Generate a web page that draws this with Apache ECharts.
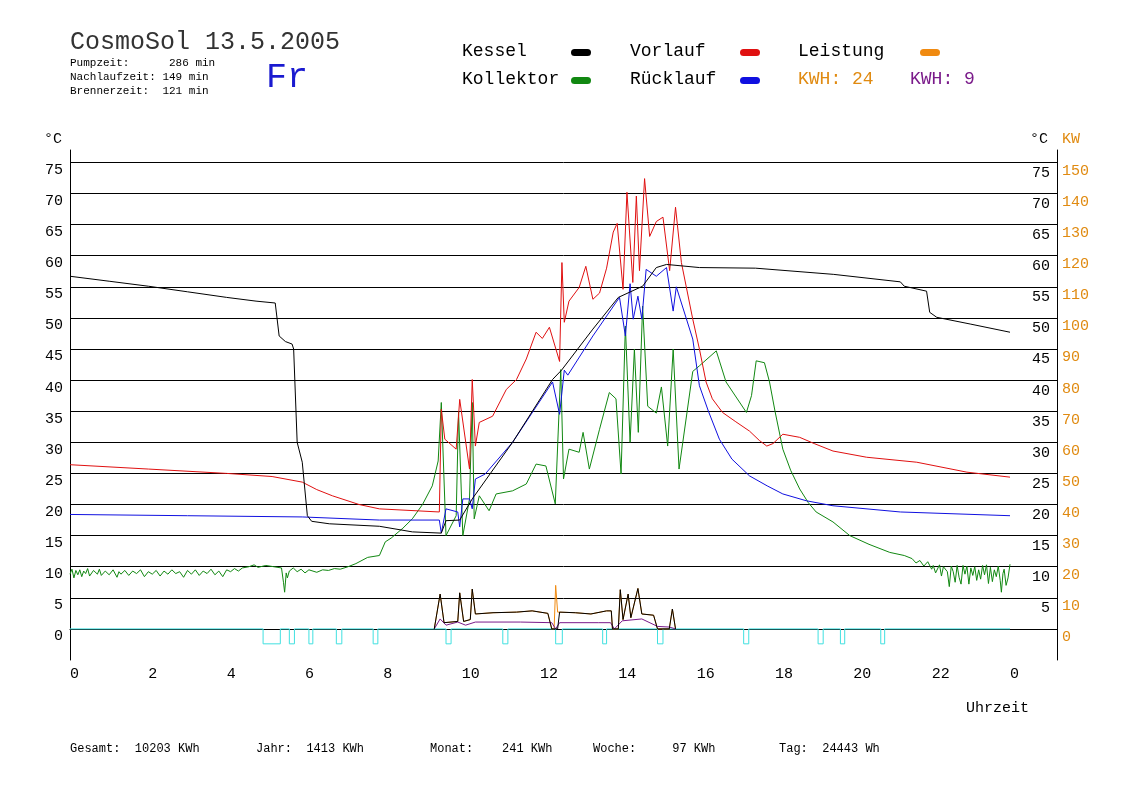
<!DOCTYPE html>
<html>
<head>
<meta charset="utf-8">
<script src="https://cdn.jsdelivr.net/npm/echarts@6/dist/echarts.min.js"></script>
<style>
  html, body { margin: 0; padding: 0; background: #fff; }
  #chart { width: 1148px; height: 812px; }
</style>
</head>
<body>
<div id="chart"></div>
<script>
// Daten: [Stunde, °C]
const kessel = [[0,56.7],[1,55.9],[2,55.1],[3,54.2],[4,53.3],[4.75,52.7],[5.24,52.4],[5.34,47.1],[5.5,46.2],[5.67,45.8],[5.71,45],[5.8,30],[5.93,26.8],[6.06,18.2],[6.17,17.3],[6.62,16.9],[7.9,16.5],[8.74,15.6],[9.48,15.4],[9.6,17.4],[9.95,17.5],[10.27,20.9],[11.3,30],[12.32,40.1],[12.55,41.6],[13.35,48.2],[14.0,53.3],[14.62,55.1],[14.97,58.1],[15.23,58.6],[16.07,58.1],[17.5,58.0],[19.5,57.0],[21.2,55.8],[21.3,55.1],[21.87,54.3],[21.95,50.9],[22.13,50.1],[23,49],[24,47.7]];

const vorlauf = [[0,26.4],[2,25.7],[4,25.0],[5.16,24.5],[5.93,23.6],[6.3,22.4],[6.7,21.4],[7.38,20.0],[7.9,19.3],[9.43,18.8],[9.48,35.3],[9.57,30.5],[9.86,28.9],[9.95,36.9],[10.2,25.7],[10.27,40.1],[10.35,29.4],[10.45,33.2],[10.79,34.2],[11.14,38.5],[11.4,40.1],[11.65,43.4],[11.9,47.7],[12.06,46.7],[12.24,48.5],[12.5,43.0],[12.56,58.9],[12.62,49.3],[12.74,52.7],[13.0,54.9],[13.17,58.3],[13.35,53.0],[13.52,54.0],[13.7,58.0],[13.87,63.8],[13.97,65.2],[14.12,54.6],[14.22,70.2],[14.37,55.7],[14.46,69.6],[14.54,57.6],[14.67,72.4],[14.8,63.1],[14.97,65.5],[15.14,66.2],[15.31,57.6],[15.46,67.8],[15.61,58.9],[15.9,49.8],[16.07,45.0],[16.24,39.7],[16.4,37.0],[16.66,34.8],[17.0,33.3],[17.35,31.8],[17.6,30.3],[17.79,29.4],[17.95,29.8],[18.2,31.3],[18.63,30.8],[19.0,29.8],[19.48,28.6],[20.34,27.6],[21.62,26.8],[22.9,25.2],[24,24.4]];

const ruecklauf = [[0,18.4],[3,18.2],[5.93,18.0],[7.9,17.5],[9.43,17.5],[9.48,15.4],[9.6,19.3],[9.9,18.8],[9.95,16.4],[10.03,20.9],[10.2,20.9],[10.27,19.3],[10.35,24.1],[10.6,24.9],[11.3,30],[12.32,39.7],[12.5,34.5],[12.62,41.6],[12.71,40.8],[13.35,47.1],[14.03,53.3],[14.18,47.1],[14.3,55.5],[14.38,49.8],[14.5,53.5],[14.6,49.8],[14.71,57.8],[14.97,56.7],[15.23,58.1],[15.4,51.1],[15.48,55.0],[15.9,46.6],[16.07,39.1],[16.3,35.0],[16.58,30.5],[16.9,27.3],[17.35,24.6],[17.8,23.0],[18.2,21.7],[18.8,20.6],[19.48,19.8],[21.2,18.8],[24,18.2]];

const kollektor = [[0,8.8],[0.05,9.6],[0.1,8.2],[0.15,9.4],[0.2,8.7],[0.25,9.5],[0.3,8.4],[0.35,9.3],[0.4,8.9],[0.45,9.7],[0.5,8.5],[0.6,9.4],[0.7,8.8],[0.75,9.6],[0.8,8.6],[0.9,9.3],[1.0,8.7],[1.1,9.5],[1.2,8.3],[1.25,9.2],[1.3,8.8],[1.4,9.4],[1.5,8.6],[1.6,9.3],[1.7,8.9],[1.8,9.5],[1.9,8.4],[2.0,9.2],[2.1,8.8],[2.2,9.4],[2.3,8.5],[2.4,9.3],[2.5,8.8],[2.6,9.5],[2.7,8.9],[2.8,9.2],[2.9,8.3],[3.0,9.4],[3.1,8.8],[3.2,9.5],[3.3,8.6],[3.4,9.3],[3.5,8.9],[3.6,9.6],[3.7,8.7],[3.8,9.3],[3.9,8.4],[4.0,9.5],[4.1,9.2],[4.2,9.7],[4.3,9.3],[4.4,9.8],[4.57,10.0],[4.7,10.3],[4.8,9.9],[5.0,10.2],[5.2,10.0],[5.4,9.8],[5.45,7.5],[5.48,5.9],[5.52,9.0],[5.55,8.2],[5.6,9.3],[5.7,9.8],[5.8,9.2],[5.9,9.6],[6.0,9.0],[6.1,9.5],[6.3,9.1],[6.45,9.5],[6.6,9.4],[6.75,9.7],[6.9,9.6],[7.1,10.0],[7.3,10.5],[7.6,11.5],[7.9,11.8],[8.05,14.0],[8.2,14.6],[8.5,16.2],[8.74,17.7],[9.0,20.0],[9.25,23.0],[9.4,27],[9.48,36.4],[9.6,15.0],[9.86,18.2],[9.92,34.9],[10.03,15.0],[10.2,20.9],[10.27,36.4],[10.32,17.7],[10.45,21.4],[10.7,19.0],[10.88,21.7],[11.3,22.2],[11.65,23.3],[11.9,26.5],[12.15,26.2],[12.39,20.1],[12.53,41.7],[12.6,24.1],[12.74,28.9],[13.0,28.4],[13.1,31.6],[13.26,25.7],[13.52,32.1],[13.77,38.0],[13.94,37.0],[14.07,24.9],[14.18,48.7],[14.3,30.0],[14.41,45.0],[14.51,31.6],[14.62,51.9],[14.75,35.8],[14.97,34.7],[15.1,38.9],[15.26,29.4],[15.4,45.0],[15.55,25.7],[15.9,41.4],[16.07,42.3],[16.5,44.7],[16.75,39.7],[17.27,34.8],[17.4,37.5],[17.52,43.1],[17.73,42.8],[17.86,39.7],[18.0,35.0],[18.2,28.9],[18.4,25.5],[18.63,22.5],[18.85,20.3],[19.05,18.8],[19.48,17.2],[19.91,15.0],[20.4,13.6],[20.93,12.3],[21.3,11.8],[21.5,11.3],[21.6,10.6],[21.7,11.0],[21.8,10.1],[21.9,10.8],[22.0,9.6],[22.04,10.2],[22.1,9.0],[22.2,10.3],[22.25,8.5],[22.3,10.0],[22.4,9.2],[22.45,6.8],[22.5,10.1],[22.55,9.2],[22.6,7.5],[22.65,10.2],[22.7,8.3],[22.75,7.2],[22.8,10.2],[22.85,8.8],[22.9,10.1],[22.95,7.2],[23.0,9.8],[23.05,8.6],[23.1,10.0],[23.15,7.8],[23.2,9.5],[23.25,8.0],[23.3,10.2],[23.35,8.7],[23.4,10.3],[23.45,7.3],[23.5,9.9],[23.55,7.6],[23.6,9.5],[23.65,8.4],[23.7,10.1],[23.75,7.8],[23.78,5.9],[23.82,8.9],[23.85,9.6],[23.9,7.0],[23.95,8.2],[24,10.4]];

// Leistung (in °C-Skala, KW = 2 x)
const leistung = [[9.3,0],[9.45,5.6],[9.55,1.0],[9.9,1.2],[9.95,5.8],[10.05,1.2],[10.22,1.5],[10.27,6.4],[10.35,2.4],[10.8,2.6],[11.4,2.7],[11.8,2.9],[12.2,2.5],[12.3,0],[12.36,0],[12.4,7.0],[12.45,2.7],[12.9,2.6],[13.3,2.4],[13.7,2.9],[13.82,2.9],[13.85,0],[14.0,0],[14.05,6.3],[14.12,1.5],[14.25,5.6],[14.32,1.8],[14.5,6.5],[14.6,2.4],[14.9,2.2],[15.0,0],[15.3,0],[15.38,3.2],[15.46,0]];
const leistungSchwarz = [[9.3,0],[9.45,5.6],[9.55,1.0],[9.9,1.2],[9.95,5.8],[10.05,1.2],[10.22,1.5],[10.27,6.4],[10.35,2.4],[10.8,2.6],[11.4,2.7],[11.8,2.9],[12.2,2.5],[12.3,0],[12.45,0],[12.5,2.7],[12.9,2.6],[13.3,2.4],[13.7,2.9],[13.82,2.9],[13.85,0],[14.0,0],[14.05,6.3],[14.12,1.5],[14.25,5.6],[14.32,1.8],[14.5,6.5],[14.6,2.4],[14.9,2.2],[15.0,0],[15.3,0],[15.38,3.2],[15.46,0]];
const leistung2 = [[9.3,0],[9.45,1.6],[9.6,0.6],[9.9,1.1],[10.1,0.6],[10.35,1.1],[11.5,1.1],[12.3,1.0],[12.4,0],[12.5,1.0],[13.5,1.0],[13.8,1.0],[13.9,0],[14.1,1.3],[14.6,1.6],[15.0,0.4],[15.3,0.3],[15.46,0]];

// Pumpe: Zeiten in denen die Linie abfällt
const pumpe = [[4.93,5.37],[5.6,5.73],[6.1,6.2],[6.8,6.94],[7.74,7.86],[9.6,9.73],[11.05,11.18],[12.4,12.57],[13.6,13.7],[15.0,15.14],[17.2,17.33],[19.1,19.23],[19.67,19.78],[20.7,20.8]];
const pumpeTief = -2.4;

const pumpeDaten = [[0,0]];
pumpe.forEach(([a, b]) => {
    pumpeDaten.push([a,0],[a,pumpeTief],[b,pumpeTief],[b,0]);
});
pumpeDaten.push([24,0]);

const mono = 'Liberation Mono';

function linie(name, data, color, yIndex) {
    return {
        name, type: 'line', data, showSymbol: false, symbol: 'none',
        yAxisIndex: yIndex || 0,
        lineStyle: { color, width: 1 }, itemStyle: { color }
    };
}

function pille(x, y, color) {
    return { type: 'rect', shape: { x, y, width: 20, height: 7, r: 3.5 }, style: { fill: color } };
}
function text(x, y, t, size, color) {
    return { type: 'text', x, y, style: { text: t, fontSize: size, fill: color || '#000', fontFamily: mono } };
}

const chart = echarts.init(document.getElementById('chart'));
chart.setOption({
    animation: false,
    backgroundColor: '#fff',
    grid: { left: 70, right: 91, top: 150, bottom: 152 },
    xAxis: {
        type: 'value', min: 0, max: 25.2, interval: 2,
        axisLine: { lineStyle: { color: '#000' } },
        axisTick: { show: false },
        splitLine: { show: false },
        axisLabel: {
            color: '#000', fontFamily: mono, fontSize: 15, margin: 7, showMaxLabel: false, align: 'left',
            formatter: v => v > 24 ? '' : String(v % 24)
        }
    },
    yAxis: [
        {
            type: 'value', min: -5, max: 77, interval: 5,
            axisLine: { show: true, lineStyle: { color: '#000' } },
            axisTick: { show: false },
            splitLine: { show: true, showMinLine: false, showMaxLine: false, lineStyle: { color: '#000', width: 1 } },
            axisLabel: {
                color: '#000', fontFamily: mono, fontSize: 15, margin: 7, verticalAlign: 'top',
                formatter: v => (v < 0 || v > 75) ? '' : String(v)
            }
        },
        {
            type: 'value', min: -5, max: 77, interval: 5, position: 'right',
            axisLine: { show: true, lineStyle: { color: '#000' } },
            axisTick: { show: false }, splitLine: { show: false },
            axisLabel: {
                inside: true, color: '#000', fontFamily: mono, fontSize: 15, margin: 7, verticalAlign: 'top', padding: [3, 0, 0, 0],
                formatter: v => (v <= 0 || v > 75) ? '' : String(v)
            }
        },
        {
            type: 'value', min: -10, max: 154, interval: 10, position: 'right',
            axisLine: { show: false }, axisTick: { show: false }, splitLine: { show: false },
            axisLabel: {
                color: '#e08a10', fontFamily: mono, fontSize: 15, margin: 5, verticalAlign: 'top', padding: [1, 0, 0, 0],
                formatter: v => (v < 0 || v > 150) ? '' : String(v)
            }
        }
    ],
    graphic: [
        text(70, 30, 'CosmoSol 13.5.2005', 25, '#333'),
        text(70, 58, 'Pumpzeit:      286 min', 11),
        text(70, 72, 'Nachlaufzeit: 149 min', 11),
        text(70, 86, 'Brennerzeit:  121 min', 11),
        text(266, 60, 'Fr', 35, '#1a1ad0'),
        text(462, 42, 'Kessel', 18), pille(571, 49, '#000'),
        text(462, 70, 'Kollektor', 18), pille(571, 77, '#118811'),
        text(630, 42, 'Vorlauf', 18), pille(740, 49, '#e01010'),
        text(630, 70, 'Rücklauf', 18), pille(740, 77, '#1010e0'),
        text(798, 42, 'Leistung', 18), pille(920, 49, '#f08a10'),
        text(798, 70, 'KWH: 24', 18, '#e08a10'),
        text(910, 70, 'KWH: 9', 18, '#7a1a8a'),
        text(44, 132, '°C', 15), text(1030, 132, '°C', 15), text(1062, 132, 'KW', 15, '#e08a10'),
        text(966, 701, 'Uhrzeit', 15),
        text(70, 743, 'Gesamt:  10203 KWh', 12),
        text(256, 743, 'Jahr:  1413 KWh', 12),
        text(430, 743, 'Monat:    241 KWh', 12),
        text(593, 743, 'Woche:     97 KWh', 12),
        text(779, 743, 'Tag:  24443 Wh', 12)
    ],
    series: [
        linie('Pumpe', pumpeDaten, '#40e0e0'),
        linie('Leistung', leistung, '#f08a10'),
        linie('Leistung2', leistung2, '#7a1a8a'),
        linie('LeistungSchwarz', leistungSchwarz, '#000'),
        linie('Kollektor', kollektor, '#118811'),
        linie('Vorlauf', vorlauf, '#e01010'),
        linie('Rücklauf', ruecklauf, '#1010e0'),
        linie('Kessel', kessel, '#000')
    ]
});
</script>
</body>
</html>
